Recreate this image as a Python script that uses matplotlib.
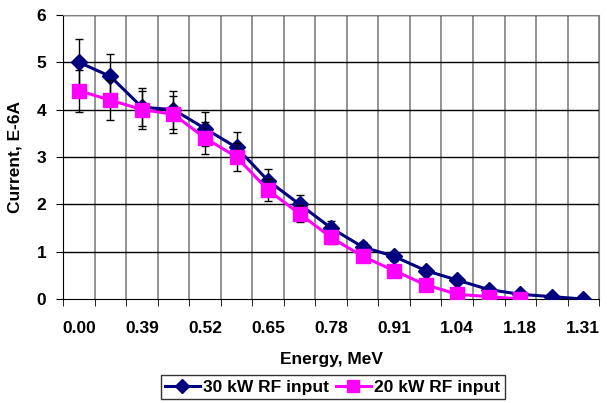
import matplotlib.pyplot as plt
from matplotlib.lines import Line2D

# Datos
categorias = ["0.00", "0.33", "0.39", "0.46", "0.52", "0.59", "0.65", "0.72", "0.78",
              "0.85", "0.91", "0.98", "1.04", "1.11", "1.18", "1.24", "1.31"]
corriente_30kw = [5.0, 4.7, 4.05, 4.0, 3.6, 3.2, 2.5, 2.0, 1.5, 1.1, 0.9, 0.6, 0.4, 0.2, 0.1, 0.05, 0.0]
error_30kw = [0.5, 0.47, 0.4, 0.4, 0.36, 0.32, 0.25, 0.2, 0.15, 0.11, 0.09, 0.06, 0.04, 0.02, 0.01, 0.005, 0.0]
corriente_20kw = [4.4, 4.2, 4.0, 3.9, 3.4, 3.0, 2.3, 1.8, 1.3, 0.9, 0.6, 0.3, 0.1, 0.05, 0.0]
error_20kw = [0.44, 0.42, 0.4, 0.39, 0.34, 0.3, 0.23, 0.18, 0.13, 0.09, 0.06, 0.03, 0.01, 0.005, 0.0]

plt.rcParams['font.family'] = ['Liberation Sans', 'DejaVu Sans']
plt.rcParams['font.weight'] = 'bold'

fig = plt.figure(figsize=(6.07, 4.03), dpi=100)
ax = fig.add_axes([0.104, 0.258, 0.883, 0.705])

x30 = list(range(len(corriente_30kw)))
x20 = list(range(len(corriente_20kw)))

ax.errorbar(x30, corriente_30kw, yerr=error_30kw, color="#000080", lw=2.2,
            marker="D", ms=8, mfc="#000080", mec="#000080",
            ecolor="black", elinewidth=1, capsize=3, zorder=3)
ax.errorbar(x20, corriente_20kw, yerr=error_20kw, color="#FF00FF", lw=2.2,
            marker="s", ms=10, mfc="#FF00FF", mec="#FF00FF",
            ecolor="black", elinewidth=1, capsize=3, zorder=4)

ax.set_xlim(-0.5, len(categorias) - 0.5)
ax.set_ylim(0, 6)
ax.set_yticks(range(0, 7))
ax.set_xticks([i for i in range(len(categorias)) if i % 2 == 0])
ax.set_xticklabels([categorias[i] for i in range(len(categorias)) if i % 2 == 0])
ax.set_xticks([i - 0.5 for i in range(len(categorias) + 1)], minor=True)

# Rejilla
ax.grid(False)
for xv in [i - 0.5 for i in range(1, len(categorias) + 1)]:
    ax.axvline(xv, color="#808080", lw=1.2, zorder=1)
for yv in range(1, 7):
    ax.axhline(yv, color="black", lw=1, zorder=1)

for lado in ["top", "right"]:
    ax.spines[lado].set_color("#808080")
ax.spines["left"].set_color("black")
ax.spines["bottom"].set_color("black")

ax.tick_params(axis="x", which="major", length=0, pad=16, labelsize=12.5)
ax.tick_params(axis="x", which="minor", length=5, direction="out")
ax.tick_params(axis="y", length=5, direction="out", labelsize=12.5, pad=7)

ax.set_xlabel("Energy, MeV", fontsize=12.5, fontweight="bold", labelpad=11)
ax.set_ylabel("Current, E-6A", fontsize=12.5, fontweight="bold", labelpad=10)

handles = [
    Line2D([], [], color="#000080", lw=2.2, marker="D", ms=7, mfc="#000080", mec="#000080"),
    Line2D([], [], color="#FF00FF", lw=2.2, marker="s", ms=9, mfc="#FF00FF", mec="#FF00FF"),
]
leg = ax.legend(handles, ["30 kW RF input", "20 kW RF input"],
                loc="upper center", bbox_to_anchor=(0.503, -0.268), ncol=2, frameon=True,
                fancybox=False, edgecolor="black", fontsize=12.5, handlelength=2.0,
                handletextpad=0.2, columnspacing=0.4, borderpad=0.25, borderaxespad=0)
leg.get_frame().set_linewidth(1)

fig.savefig("out.png", dpi=100)
